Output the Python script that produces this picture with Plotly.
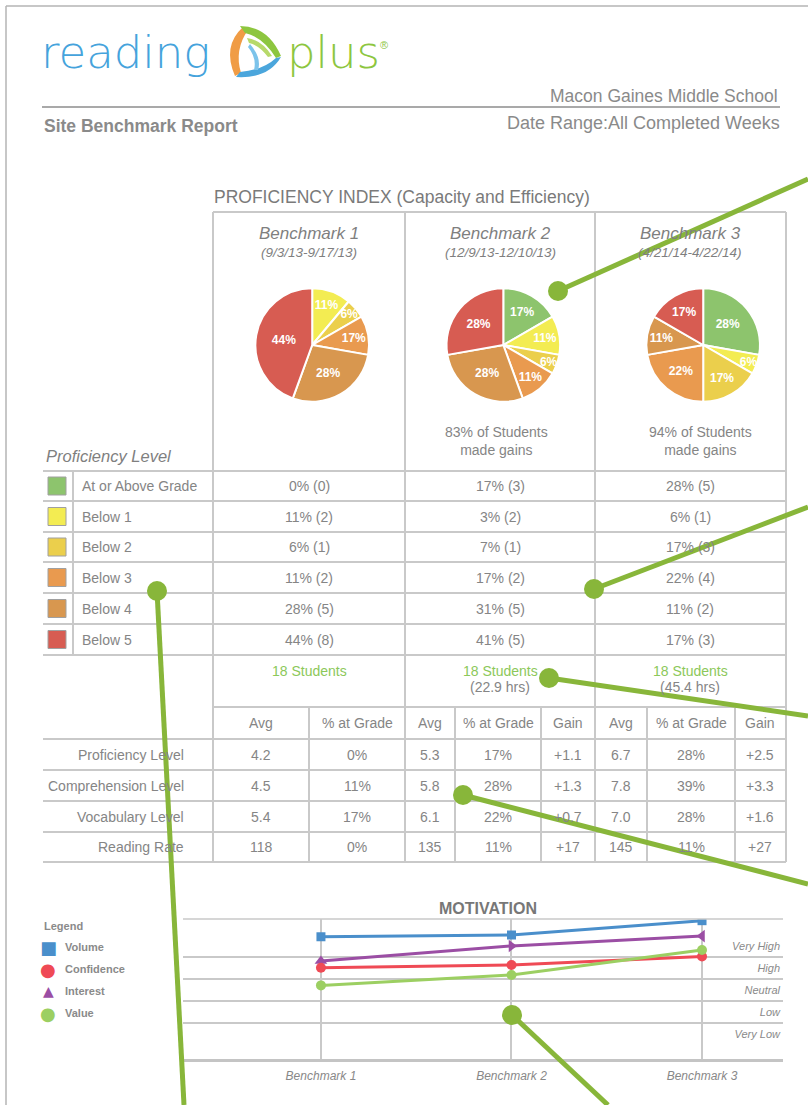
import plotly.graph_objects as go

W, H = 808, 1105


def X(x):
    return x / W


def Y(y):
    return 1 - y / H


# ---------------- data ----------------
levels = ["At or Above Grade", "Below 1", "Below 2", "Below 3", "Below 4", "Below 5"]
level_colors = ["#8dc46d", "#f3ec52", "#ebcf4c", "#e99a4f", "#d8974f", "#d75c52"]
benchmarks = ["Benchmark 1", "Benchmark 2", "Benchmark 3"]
benchmark_dates = ["(9/3/13-9/17/13)", "(12/9/13-12/10/13)", "(4/21/14-4/22/14)"]
b1_counts = [0, 2, 1, 2, 5, 8]
b2_counts = [3, 2, 1, 2, 5, 5]
b3_counts = [5, 1, 3, 4, 2, 3]
b1_pie_text = ["", "11%", "6%", "17%", "28%", "44%"]
b2_pie_text = ["17%", "11%", "6%", "11%", "28%", "28%"]
b3_pie_text = ["28%", "6%", "17%", "22%", "11%", "17%"]
b1_table = ["0% (0)", "11% (2)", "6% (1)", "11% (2)", "28% (5)", "44% (8)"]
b2_table = ["17% (3)", "3% (2)", "7% (1)", "17% (2)", "31% (5)", "41% (5)"]
b3_table = ["28% (5)", "6% (1)", "17% (3)", "22% (4)", "11% (2)", "17% (3)"]
gains_text = ["", "83% of Students<br>made gains", "94% of Students<br>made gains"]
students = ["18 Students", "18 Students", "18 Students"]
hours = ["", "(22.9 hrs)", "(45.4 hrs)"]
metric_rows = ["Proficiency Level", "Comprehension Level", "Vocabulary Level", "Reading Rate"]
metric_headers = ["Avg", "% at Grade", "Avg", "% at Grade", "Gain", "Avg", "% at Grade", "Gain"]
proficiency_row = ["4.2", "0%", "5.3", "17%", "+1.1", "6.7", "28%", "+2.5"]
comprehension_row = ["4.5", "11%", "5.8", "28%", "+1.3", "7.8", "39%", "+3.3"]
vocabulary_row = ["5.4", "17%", "6.1", "22%", "+0.7", "7.0", "28%", "+1.6"]
rate_row = ["118", "0%", "135", "11%", "+17", "145", "11%", "+27"]
motivation_levels = ["Very Low", "Low", "Neutral", "High", "Very High"]
motivation_level_vals = [1, 2, 3, 4, 5]
volume = [5.42, 5.50, 6.15]
interest = [4.32, 5.00, 5.45]
confidence = [4.01, 4.14, 4.52]
value = [3.21, 3.68, 4.82]

# ---------------- styling / positions ----------------
GRAY = "#858585"
LINE = "#c9c9c9"
GREEN_TXT = "#8cc85a"
CALLOUT = "#88b63a"
FONT = "Liberation Sans, Arial, sans-serif"

fig = go.Figure()

# pies
pie_centers = [(312.2, 345), (503.3, 345), (703.2, 345)]
R = 56.8
for (cx, cy), counts, texts in zip(pie_centers, [b1_counts, b2_counts, b3_counts],
                                    [b1_pie_text, b2_pie_text, b3_pie_text]):
    fig.add_trace(go.Pie(
        values=counts, labels=levels, text=texts, textinfo="text",
        sort=False, direction="clockwise", rotation=0,
        marker=dict(colors=level_colors, line=dict(color="white", width=2)),
        domain=dict(x=[X(cx - R), X(cx + R)], y=[Y(cy + R), Y(cy - R)]),
        textposition="inside", insidetextorientation="horizontal",
        textfont=dict(color="white", size=12, family="Arial", weight="bold"),
        showlegend=False, hoverinfo="skip",
    ))

# motivation line chart
series = [
    ("Volume", volume, "#4a8fcb", "square", 9),
    ("Interest", interest, "#9b4ea4", ["triangle-up", "triangle-right", "triangle-left"], 11),
    ("Confidence", confidence, "#ef4a55", "circle", 10),
    ("Value", value, "#9ccf62", "circle", 10),
]
for name, ys, col, sym, size in series:
    fig.add_trace(go.Scatter(
        x=benchmarks, y=ys, name=name, mode="lines+markers",
        line=dict(color=col, width=3),
        marker=dict(color=col, symbol=sym, size=size),
        xaxis="x", yaxis="y", showlegend=False, hoverinfo="skip",
    ))

annotations = []


def txt(x, y, s, size=14, color=GRAY, xanchor="center", bold=False, italic=False,
        family=FONT, weight=None):
    annotations.append(dict(
        x=X(x), y=Y(y), xref="paper", yref="paper", text=s, showarrow=False,
        xanchor=xanchor, yanchor="middle",
        font=dict(size=size, color=color, family=family,
                  weight=weight if weight is not None else ("bold" if bold else "normal"),
                  style="italic" if italic else "normal"),
    ))


shapes = []


def hline(x0, x1, y, color=LINE, width=2):
    shapes.append(dict(type="line", xref="paper", yref="paper", x0=X(x0), x1=X(x1),
                       y0=Y(y), y1=Y(y), line=dict(color=color, width=width)))


def vline(x, y0, y1, color=LINE, width=2):
    shapes.append(dict(type="line", xref="paper", yref="paper", x0=X(x), x1=X(x),
                       y0=Y(y0), y1=Y(y1), line=dict(color=color, width=width)))


# page border
hline(6, 808, 6, color="#b5b5b5", width=1.5)
vline(6, 6, 1105, color="#b5b5b5", width=1.5)

# logo
txt(39, 52, "reading", size=45, color="#45a3dc", xanchor="left",
    family="DejaVu Sans, Open Sans, sans-serif", weight=200)
txt(285, 52, "plus", size=45, color="#8dc63f", xanchor="left",
    family="DejaVu Sans, Open Sans, sans-serif", weight=200)
txt(384, 45, "®", size=11, color="#8dc63f")


def P(x, y):
    return f"{X(x):.5f},{Y(y):.5f}"


logo_paths = [
    ("#f09c45", f"M {P(243,27)} Q {P(222,46)} {P(235,76)} L {P(241,73)} Q {P(234,50)} {P(248,30)} Z"),
    ("#8dc63f", f"M {P(240,26)} Q {P(268,26)} {P(281,56)} L {P(276,58)} Q {P(263,37)} {P(245,33)} Z"),
    ("#b7d96a", f"M {P(247,38)} Q {P(262,40)} {P(272,56)} L {P(268,57)} Q {P(259,45)} {P(249,43)} Z"),
    ("#4ba6dc", f"M {P(281,57)} Q {P(268,79)} {P(236,77)} L {P(240,72)} Q {P(263,70)} {P(276,58)} Z"),
    ("#7cc3ea", f"M {P(250,44)} Q {P(262,58)} {P(258,70)} L {P(254,70)} Q {P(257,58)} {P(248,47)} Z"),
]
for col, p in logo_paths:
    shapes.append(dict(type="path", xref="paper", yref="paper", path=p,
                       fillcolor=col, line=dict(width=0)))

# header
hline(42, 780, 107, color="#a9a9a9", width=2)
txt(780, 96, "Macon Gaines Middle School", size=17.5, color="#8a8a8a", xanchor="right")
txt(42, 126, "Site Benchmark Report", size=17.5, color="#8a8a8a", xanchor="left", bold=True)
txt(782, 123, "Date Range:All Completed Weeks", size=18, color="#8a8a8a", xanchor="right")
txt(212, 197, "PROFICIENCY INDEX (Capacity and Efficiency)", size=17.5, color="#7a7a7a", xanchor="left")

# table grid
col_x = [213, 405, 595, 786]
col_centers = [309, 500, 690]
hline(213, 786, 212)
for x in col_x:
    vline(x, 212, 862)
row_lines = [471, 501, 532, 562, 593, 624, 655]
for y in row_lines:
    hline(43, 786, y)
vline(73, 471, 655)
hline(213, 786, 707)
for x in [309, 455, 541, 647, 735]:
    vline(x, 707, 862)
for y in [739, 770, 801, 832, 862]:
    hline(43, 786, y)

# benchmark headers
for cx, name, dates, gains in zip(col_centers, benchmarks, benchmark_dates, gains_text):
    txt(cx, 233, name, size=17, color="#7f7f7f", italic=True)
    txt(cx, 253, dates, size=13.5, color="#7f7f7f", italic=True)
    if gains:
        txt(cx - 4 if cx == 500 else cx + 10, 441, gains, size=14)

# proficiency level legend
txt(44, 456, "Proficiency Level", size=16.5, color="#7f7f7f", xanchor="left", italic=True)
row_centers = [486, 516.5, 547, 577.5, 608.5, 639.5]
for yc, lvl, col in zip(row_centers, levels, level_colors):
    shapes.append(dict(type="rect", xref="paper", yref="paper", x0=X(48), x1=X(66),
                       y0=Y(yc + 9), y1=Y(yc - 9), fillcolor=col,
                       line=dict(color="#a0a0a0", width=1)))
    txt(80, yc, lvl, size=14, xanchor="left")
for cx, vals in zip(col_centers, [b1_table, b2_table, b3_table]):
    for yc, v in zip(row_centers, vals):
        txt(cx, yc, v, size=14)
for cx, s, h in zip(col_centers, students, hours):
    txt(cx, 671, s, size=14, color=GREEN_TXT)
    if h:
        txt(cx, 687, h, size=14)

# metrics table
metric_cols = [261, 357, 430, 498, 568, 621, 691, 760]
for cx, hdr in zip(metric_cols, metric_headers):
    txt(cx, 723, hdr, size=14)
metric_y = [754.5, 785.5, 816.5, 847]
for yc, label, row in zip(metric_y, metric_rows,
                          [proficiency_row, comprehension_row, vocabulary_row, rate_row]):
    txt(186, yc, label, size=14, xanchor="right")
    for cx, v in zip(metric_cols, row):
        txt(cx, yc, v, size=14)

# motivation
txt(488, 908, "MOTIVATION", size=16, color="#777777", bold=True)
hline(183, 783, 919, color=LINE, width=1.5)
txt(42, 926, "Legend", size=11, color="#8a8a8a", xanchor="left", bold=True)
leg = [("■", "#4a8fcb", "Volume", 18), ("●", "#ef4a55", "Confidence", 18),
       ("▲", "#9b4ea4", "Interest", 14), ("●", "#9ccf62", "Value", 18)]
for i, (sym, col, name, ss) in enumerate(leg):
    yy = 947 + 22 * i
    txt(48, yy, sym, size=ss, color=col, family="DejaVu Sans")
    txt(63, yy, name, size=11, color="#8a8a8a", xanchor="left", bold=True)

# callouts
callouts = [
    ((558, 291), (808, 179)),
    ((594, 589), (808, 507)),
    ((549, 678), (808, 716)),
    ((463, 795), (808, 884)),
    ((157, 591), (184, 1105)),
    ((512, 1015), (608, 1105)),
]
for (x0, y0), (x1, y1) in callouts:
    shapes.append(dict(type="line", xref="paper", yref="paper", x0=X(x0), y0=Y(y0),
                       x1=X(x1), y1=Y(y1), line=dict(color=CALLOUT, width=5), layer="above"))
    shapes.append(dict(type="circle", xref="paper", yref="paper", x0=X(x0 - 10), x1=X(x0 + 10),
                       y0=Y(y0 + 10), y1=Y(y0 - 10), fillcolor=CALLOUT,
                       line=dict(width=0), layer="above"))

fig.update_layout(
    width=W, height=H, margin=dict(l=0, r=0, t=0, b=0),
    paper_bgcolor="white", plot_bgcolor="white",
    font=dict(family=FONT, color=GRAY),
    uniformtext=dict(minsize=12, mode="show"),
    annotations=annotations, shapes=shapes, showlegend=False,
    xaxis=dict(domain=[X(183), X(783)], range=[-0.724, 2.425], type="category",
               showgrid=True, gridcolor=LINE, gridwidth=1.5,
               showline=True, linecolor="#c4c4c4", linewidth=3, zeroline=False,
               ticks="", ticklabelstandoff=4,
               tickfont=dict(size=12, color="#888888", style="italic")),
    yaxis=dict(domain=[Y(1059), Y(919)], range=[-0.136, 6.227], side="right",
               tickvals=motivation_level_vals, ticktext=motivation_levels,
               ticklabelposition="inside", ticks="", showgrid=False, zeroline=False,
               showline=False,
               tickfont=dict(size=11, color="#8a8a8a", style="italic"),
               minor=dict(tickmode="array", tickvals=[1.5, 2.5, 3.5, 4.5], showgrid=True,
                          gridcolor=LINE, gridwidth=1.5)),
)

fig.write_html("out.html", post_script="document.body.style.margin='0';",
               config={"displayModeBar": False})
